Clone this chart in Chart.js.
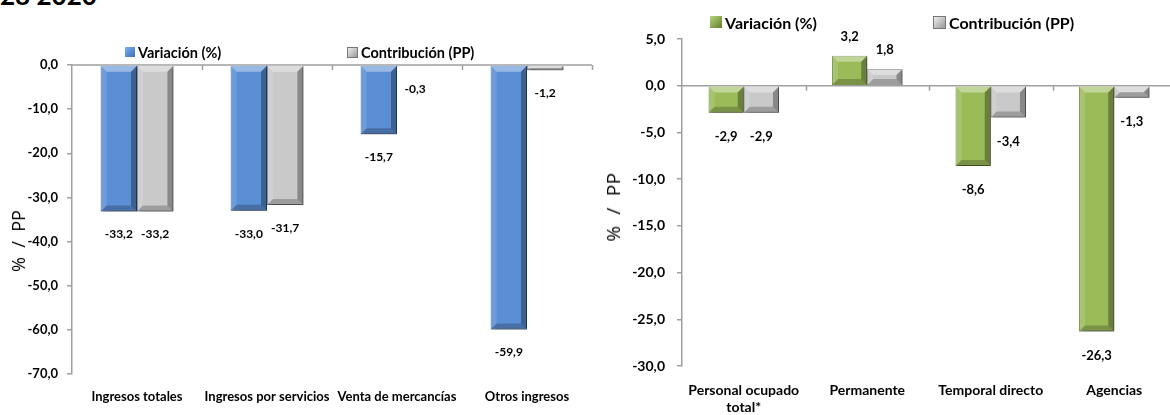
<!DOCTYPE html>
<html><head><meta charset="utf-8">
<script src="https://cdn.jsdelivr.net/npm/chart.js@4.4.1/dist/chart.umd.min.js"></script>
<style>
html,body{margin:0;padding:0;width:1170px;height:415px;overflow:hidden;background:#fff;font-family:Lato,sans-serif;}
#title{position:absolute;left:0;top:-18px;font:bold 26px/26px Lato,sans-serif;color:#000;white-space:nowrap;}
.box{position:absolute;top:0;height:415px;width:600px;}
#c1box{left:0}
#c2box{left:590px}
.leg{position:absolute;display:flex;align-items:center;font-weight:bold;color:#000;white-space:nowrap;height:20px;z-index:2;}
.sw{display:inline-block;margin-right:3px;box-sizing:border-box;}
.ytitle{position:absolute;transform:translate(-50%,-50%) rotate(-90deg);font-family:'Open Sans',sans-serif;color:#000;white-space:pre;z-index:2;}
</style></head>
<body>
<div id="title">28 2020</div>
<div class="box" id="c1box"><canvas id="c1" width="600" height="415"></canvas></div>
<div class="box" id="c2box"><canvas id="c2" width="600" height="415"></canvas></div>
<div class="ytitle" style="left:18px;top:241px;font-size:18px;">%  /  PP</div>
<div class="ytitle" style="left:613px;top:207px;font-size:19px;letter-spacing:0.5px;">%  /  PP</div>
<div class="leg" style="left:125px;top:42px;font-size:14.5px;"><span class="sw" style="width:10px;height:10px;background:linear-gradient(135deg,#7fb0ee,#3b6fb8);"></span><span id="l1a"></span></div>
<div class="leg" style="left:347px;top:42px;font-size:14.5px;"><span class="sw" style="width:11px;height:11px;background:linear-gradient(135deg,#eee,#999);border:1px solid #777;"></span><span id="l1b"></span></div>
<div class="leg" style="left:710px;top:12px;font-size:16px;"><span class="sw" style="width:12px;height:12px;background:linear-gradient(135deg,#b9d57e,#5f7d2a);"></span><span id="l2a"></span></div>
<div class="leg" style="left:933px;top:12px;font-size:16px;"><span class="sw" style="width:13px;height:13px;background:linear-gradient(135deg,#eee,#999);border:1px solid #777;"></span><span id="l2b"></span></div>
<script>
// ---- data ----
const seriesNames = ['Variación (%)', 'Contribución (PP)'];
const leftCategories = ['Ingresos totales', 'Ingresos por servicios', 'Venta de mercancías', 'Otros ingresos'];
const leftVariacion = [-33.2, -33.0, -15.7, -59.9];
const leftContribucion = [-33.2, -31.7, -0.3, -1.2];
const leftTickValues = [0, -10, -20, -30, -40, -50, -60, -70];
const rightCategories = [['Personal ocupado', 'total*'], 'Permanente', 'Temporal directo', 'Agencias'];
const rightVariacion = [-2.9, 3.2, -8.6, -26.3];
const rightContribucion = [-2.9, 1.8, -3.4, -1.3];
const rightTickValues = [5, 0, -5, -10, -15, -20, -25, -30];

document.getElementById('l1a').textContent = seriesNames[0];
document.getElementById('l1b').textContent = seriesNames[1];
document.getElementById('l2a').textContent = seriesNames[0];
document.getElementById('l2b').textContent = seriesNames[1];

const fmt = v => v.toFixed(1).replace('.', ',');

function poly(ctx, pts, fill) {
  ctx.beginPath();
  ctx.moveTo(pts[0][0], pts[0][1]);
  for (let i = 1; i < pts.length; i++) ctx.lineTo(pts[i][0], pts[i][1]);
  ctx.closePath();
  ctx.fillStyle = fill;
  ctx.fill();
}

const barFx = {
  id: 'barFx',
  beforeDatasetsDraw(chart) {
    const ctx = chart.ctx, a = chart.chartArea;
    const y0 = chart.scales.y.getPixelForValue(0);
    const xs = chart.scales.x;
    ctx.save();
    ctx.strokeStyle = '#a0a0a0';
    ctx.lineWidth = 1.5;
    ctx.beginPath();
    ctx.moveTo(a.left, y0); ctx.lineTo(a.right, y0);
    const n = chart.data.labels.length;
    for (let i = 1; i <= n; i++) {
      const bx = i < n ? (xs.getPixelForTick(i - 1) + xs.getPixelForTick(i)) / 2 : a.right;
      ctx.moveTo(Math.round(bx) + 0.5, y0); ctx.lineTo(Math.round(bx) + 0.5, y0 + 5);
    }
    ctx.stroke();
    ctx.restore();
  },
  beforeDatasetDraw(chart) {
    const ctx = chart.ctx;
    ctx.save();
    ctx.shadowColor = 'rgba(0,0,0,0.35)';
    ctx.shadowBlur = 4;
    ctx.shadowOffsetX = 2;
    ctx.shadowOffsetY = 2;
  },
  afterDatasetDraw(chart, args) {
    const ctx = chart.ctx;
    ctx.restore();
    ctx.save();
    args.meta.data.forEach(el => {
      const l = el.x - el.width / 2, r = el.x + el.width / 2;
      const t = Math.min(el.y, el.base), b = Math.max(el.y, el.base);
      const h = b - t, w = r - l;
      const s = Math.min(6, w / 4, h / 2);
      if (h < 1) return;
      poly(ctx, [[l, t], [r, t], [r - s, t + s], [l + s, t + s]], 'rgba(255,255,255,0.38)');
      poly(ctx, [[l, t], [l + s, t + s], [l + s, b - s], [l, b]], 'rgba(255,255,255,0.12)');
      poly(ctx, [[r, t], [r, b], [r - s, b - s], [r - s, t + s]], 'rgba(0,0,0,0.32)');
      poly(ctx, [[l, b], [r, b], [r - s, b - s], [l + s, b - s]], 'rgba(0,0,0,0.22)');
    });
    ctx.restore();
  },
  afterDatasetsDraw(chart, args, opts) {
    const ctx = chart.ctx;
    ctx.save();
    ctx.font = 'bold ' + opts.size + 'px Lato, sans-serif';
    ctx.fillStyle = '#000';
    ctx.textAlign = 'center';
    ctx.textBaseline = 'middle';
    chart.data.datasets.forEach((ds, di) => {
      const meta = chart.getDatasetMeta(di);
      meta.data.forEach((el, i) => {
        const v = ds.data[i];
        const y = v < 0 ? el.y + opts.below : el.y - opts.above;
        ctx.fillText(fmt(v), el.x, y);
      });
    });
    ctx.restore();
  }
};

function makeChart(id, cats, v1, v2, c1, b1, ticks, cfg) {
  return new Chart(document.getElementById(id), {
    type: 'bar',
    data: {
      labels: cats,
      datasets: [
        { label: seriesNames[0], data: v1, backgroundColor: c1, borderColor: b1, borderWidth: 1,
          categoryPercentage: cfg.catPct, barPercentage: 1.0 },
        { label: seriesNames[1], data: v2, backgroundColor: '#c9c9c9', borderColor: '#858585', borderWidth: 1,
          categoryPercentage: cfg.catPct, barPercentage: 1.0 }
      ]
    },
    plugins: [barFx],
    options: {
      responsive: false,
      animation: false,
      devicePixelRatio: 1,
      layout: { padding: { top: cfg.padTop, right: cfg.padRight, left: 0, bottom: 0 } },
      plugins: {
        legend: { display: false },
        tooltip: { enabled: false },
        barFx: { size: cfg.labelSize, below: cfg.below, above: cfg.above }
      },
      scales: {
        x: {
          grid: { display: false, drawTicks: false },
          border: { display: false },
          ticks: { autoSkip: false, maxRotation: 0, minRotation: 0, padding: cfg.catPad, color: '#000',
                   font: { family: 'Lato', weight: 'bold', size: cfg.catSize } },
          afterFit: s => { s.height = cfg.xHeight; }
        },
        y: {
          min: ticks[ticks.length - 1], max: ticks[0],
          afterBuildTicks: s => { s.ticks = ticks.map(v => ({ value: v })); },
          grid: { display: true, drawOnChartArea: false, drawTicks: true, tickLength: 5, color: '#a0a0a0', lineWidth: 1.5 },
          border: { display: true, color: '#a0a0a0', width: 1.5 },
          ticks: { padding: cfg.tickPad, color: '#000', callback: v => fmt(v),
                   font: { family: 'Lato', weight: 'bold', size: cfg.tickSize } },
          afterFit: s => { s.width = cfg.yWidth; }
        }
      }
    }
  });
}

makeChart('c1', leftCategories, leftVariacion, leftContribucion, '#5b8fd5', '#3a68a8', leftTickValues,
  { catPct: 0.56, padTop: 65, padRight: 8, xHeight: 41, yWidth: 72, tickPad: 9, tickSize: 13,
    catSize: 13, catPad: 15, labelSize: 12, below: 23, above: 19 });
makeChart('c2', rightCategories, rightVariacion, rightContribucion, '#9bbb59', '#6a8a34', rightTickValues,
  { catPct: 0.57, padTop: 39, padRight: 14, xHeight: 49, yWidth: 92, tickPad: 12, tickSize: 14,
    catSize: 14, catPad: 16, labelSize: 13, below: 24, above: 19 });
</script>
</body></html>
